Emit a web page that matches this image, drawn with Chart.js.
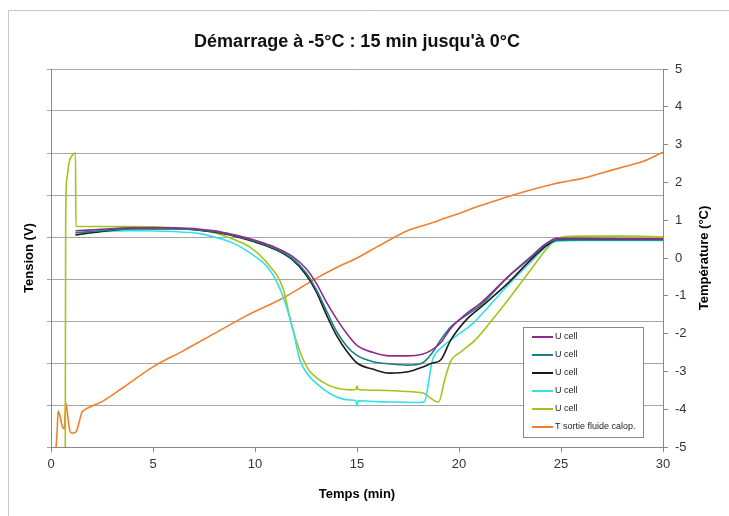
<!DOCTYPE html>
<html>
<head>
<meta charset="utf-8">
<script src="https://cdn.jsdelivr.net/npm/chart.js@4"></script>
<style>
  html, body { margin: 0; padding: 0; background: #fff; }
  #wrap { width: 729px; height: 516px; }
</style>
</head>
<body>
<div id="wrap"><canvas id="chart" width="729" height="516"></canvas></div>
<script>
// x ticks (min) and right-axis ticks (°C)
const timeTicks = [0, 5, 10, 15, 20, 25, 30];
const tempTicks = [-5, -4, -3, -2, -1, 0, 1, 2, 3, 4, 5];

// U cell 1 (purple)
const tPurple = [1.2, 2, 4, 6, 8, 9, 10, 11, 11.8, 12.5, 13, 13.5, 14, 14.5, 15, 15.8, 16.6, 17.5, 18.2, 18.7, 19.1, 19.6, 20.4, 21, 22.4, 23.5, 24.3, 24.8, 26, 28, 30];
const vPurple = [0.515, 0.517, 0.522, 0.522, 0.515, 0.505, 0.492, 0.475, 0.455, 0.425, 0.39, 0.345, 0.305, 0.27, 0.242, 0.225, 0.217, 0.217, 0.221, 0.232, 0.248, 0.283, 0.319, 0.34, 0.405, 0.45, 0.485, 0.497, 0.497, 0.496, 0.495];

// U cell 2 (teal)
const tTeal = [1.2, 2, 4, 6, 8, 9, 10, 11, 11.8, 12.5, 13, 13.5, 14, 14.5, 15, 15.8, 16.6, 17.5, 18.2, 18.7, 19.1, 19.6, 20.4, 21, 22.4, 23.5, 24.3, 24.8, 26, 28, 30];
const vTeal = [0.51, 0.513, 0.52, 0.52, 0.513, 0.503, 0.49, 0.472, 0.45, 0.415, 0.375, 0.325, 0.275, 0.24, 0.218, 0.203, 0.198, 0.195, 0.2, 0.225, 0.255, 0.286, 0.315, 0.335, 0.405, 0.452, 0.485, 0.493, 0.493, 0.493, 0.493];

// U cell 3 (black)
const tBlack = [1.2, 2, 4, 6, 8, 9, 10, 11, 11.8, 12.5, 13, 13.5, 14, 14.5, 15, 15.8, 16.6, 17.5, 18.2, 18.7, 19.1, 19.6, 20.4, 21, 22.4, 23.5, 24.3, 24.8, 26, 28, 30];
const vBlack = [0.505, 0.51, 0.52, 0.52, 0.512, 0.502, 0.488, 0.47, 0.447, 0.41, 0.37, 0.315, 0.265, 0.228, 0.2, 0.185, 0.176, 0.179, 0.19, 0.2, 0.207, 0.255, 0.305, 0.33, 0.39, 0.445, 0.48, 0.493, 0.495, 0.495, 0.495];

// U cell 4 (cyan)
const tCyan = [1.2, 2, 4, 6, 7.3, 8, 8.9, 9.75, 10.6, 11.1, 11.55, 11.9, 12.2, 12.6, 13, 13.8, 14.65, 14.95, 15, 15.05, 16, 17, 18, 18.3, 18.7, 19.1, 19.6, 20.7, 21, 22.4, 23.5, 24.3, 24.8, 26, 28, 30];
const vCyan = [0.51, 0.512, 0.515, 0.513, 0.508, 0.5, 0.486, 0.462, 0.429, 0.39, 0.333, 0.271, 0.207, 0.172, 0.152, 0.124, 0.112, 0.11, 0.097, 0.11, 0.108, 0.107, 0.106, 0.108, 0.207, 0.235, 0.255, 0.295, 0.31, 0.385, 0.44, 0.478, 0.49, 0.492, 0.492, 0.492];

// U cell 5 (yellow-green)
const tLime = [0.7, 0.72, 0.78, 0.9, 1.05, 1.2, 1.22, 2, 4, 6, 8, 8.9, 9.75, 10.6, 11.4, 11.7, 12.05, 12.55, 13.3, 14.65, 14.95, 15, 15.05, 16, 17.5, 18.2, 19.0, 19.3, 19.6, 20.05, 20.8, 21.5, 22.4, 23.5, 24.6, 25.1, 26, 28, 30];
const vLime = [0, 0.55, 0.64, 0.68, 0.695, 0.7, 0.525, 0.525, 0.525, 0.522, 0.51, 0.495, 0.476, 0.438, 0.374, 0.31, 0.248, 0.19, 0.155, 0.136, 0.137, 0.145, 0.137, 0.135, 0.132, 0.129, 0.107, 0.16, 0.205, 0.225, 0.255, 0.295, 0.35, 0.421, 0.488, 0.5, 0.502, 0.502, 0.5];

// T sortie fluide calop. (°C, right axis)
const tFluid = [0.25, 0.3, 0.35, 0.45, 0.55, 0.65, 0.73, 0.8, 0.9, 1.0, 1.15, 1.25, 1.4, 1.5, 1.7, 2.05, 2.5, 3.5, 5, 6.5, 8, 9.5, 11.4, 13, 14, 15, 16, 17.5, 18.5, 19.3, 20, 20.7, 21.7, 22.5, 23.5, 24.5, 25, 26, 27, 28, 29, 30];
const TFluid = [-5.0, -4.6, -4.05, -4.2, -4.45, -4.52, -3.83, -4.1, -4.5, -4.63, -4.62, -4.58, -4.3, -4.1, -4.0, -3.91, -3.8, -3.44, -2.88, -2.45, -2.0, -1.55, -1.05, -0.54, -0.25, 0.0, 0.3, 0.73, 0.9, 1.05, 1.18, 1.32, 1.5, 1.64, 1.8, 1.94, 2.0, 2.1, 2.25, 2.4, 2.55, 2.8];

const pts = (xs, ys) => xs.map((x, i) => ({ x: x, y: ys[i] }));

function line(label, xs, ys, color, axis) {
  return {
    label: label,
    data: pts(xs, ys),
    borderColor: color,
    backgroundColor: color,
    borderWidth: 1.6,
    pointRadius: 0,
    cubicInterpolationMode: 'monotone',
    yAxisID: axis
  };
}

Chart.defaults.font.family = '"Liberation Sans", Arial, sans-serif';
Chart.defaults.color = '#333';

// legend box inside the plot, right axis title (read bottom-up), grey frame
const boxLegend = {
  id: 'boxLegend',
  afterDraw(chart) {
    const ctx = chart.ctx;
    ctx.save();
    ctx.strokeStyle = '#c8c8c8';
    ctx.lineWidth = 1;
    ctx.beginPath();
    ctx.moveTo(8.5, 516);
    ctx.lineTo(8.5, 10.5);
    ctx.lineTo(729, 10.5);
    ctx.stroke();

    // right axis title
    ctx.save();
    ctx.translate(704, 258);
    ctx.rotate(-Math.PI / 2);
    ctx.font = 'bold 13px "Liberation Sans", Arial, sans-serif';
    ctx.fillStyle = '#000';
    ctx.textAlign = 'center';
    ctx.textBaseline = 'middle';
    ctx.fillText('Température (°C)', 0, 0);
    ctx.restore();

    ctx.fillStyle = '#fff';
    ctx.fillRect(523, 327, 120, 110);
    ctx.strokeStyle = '#888';
    ctx.strokeRect(523.5, 327.5, 120, 110);
    ctx.font = '9px "Liberation Sans", Arial, sans-serif';
    ctx.textBaseline = 'middle';
    chart.data.datasets.forEach((ds, i) => {
      const y = 337 + i * 18;
      ctx.strokeStyle = ds.borderColor;
      ctx.lineWidth = 2;
      ctx.beginPath();
      ctx.moveTo(532, y);
      ctx.lineTo(553, y);
      ctx.stroke();
      ctx.fillStyle = '#222';
      ctx.fillText(ds.label, 555, y);
    });
    ctx.restore();
  }
};

new Chart(document.getElementById('chart'), {
  type: 'line',
  data: {
    datasets: [
      line('U cell', tPurple, vPurple, '#8e2c8e', 'y'),
      line('U cell', tTeal, vTeal, '#1b7f7f', 'y'),
      line('U cell', tBlack, vBlack, '#1a1a1a', 'y'),
      line('U cell', tCyan, vCyan, '#33e0e8', 'y'),
      line('U cell', tLime, vLime, '#a3c41a', 'y'),
      line('T sortie fluide calop.', tFluid, TFluid, '#f0802e', 'y2')
    ]
  },
  options: {
    responsive: false,
    animation: false,
    devicePixelRatio: 1,
    layout: { padding: 0 },
    plugins: {
      legend: { display: false },
      tooltip: { enabled: false },
      title: {
        display: true,
        fullSize: false,
        text: "Démarrage à -5°C : 15 min jusqu'à 0°C",
        color: '#111',
        font: { size: 18, weight: 'bold' },
        padding: { top: 31, bottom: 16.4 }
      }
    },
    scales: {
      x: {
        type: 'linear',
        min: 0,
        max: 30,
        afterBuildTicks: s => { s.ticks = timeTicks.map(v => ({ value: v })); },
        afterFit: s => { s.height = 69; },
        ticks: { font: { size: 13 }, color: '#333', padding: 5 },
        grid: { drawOnChartArea: false, color: '#888', tickLength: 5 },
        border: { color: '#888' },
        title: {
          display: true,
          text: 'Temps (min)',
          color: '#000',
          font: { size: 13, weight: 'bold' },
          padding: { top: 0, bottom: 14 }
        }
      },
      y: {
        position: 'left',
        min: 0,
        max: 0.9,
        afterFit: s => { s.width = 51; },
        ticks: { stepSize: 0.1, callback: () => '' },
        grid: { color: '#a6a6a6', tickLength: 4 },
        border: { color: '#888' },
        title: {
          display: true,
          text: 'Tension (V)',
          color: '#000',
          font: { size: 13, weight: 'bold' },
          padding: { top: 22, bottom: 0 }
        }
      },
      y2: {
        position: 'right',
        min: -5,
        max: 5,
        afterBuildTicks: s => { s.ticks = tempTicks.map(v => ({ value: v })); },
        afterFit: s => { s.width = 66; },
        ticks: { font: { size: 13 }, color: '#333', padding: 7 },
        grid: { drawOnChartArea: false, color: '#888', tickLength: 5 },
        border: { color: '#888' },
        title: { display: false }
      }
    }
  },
  plugins: [boxLegend]
});
</script>
</body>
</html>
